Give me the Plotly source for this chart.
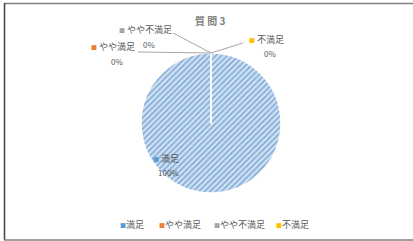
import plotly.graph_objects as go

categories = ["満足", "やや満足", "やや不満足", "不満足"]
values = [100, 0, 0, 0]
colors = ["#5B9BD5", "#ED7D31", "#A5A5A5", "#FFC000"]
title_text = "質 問 3"

W, H = 413, 241
FONT = "Noto Sans CJK JP"
TXT = "#595959"

total = sum(values)
pcts = [f"{round(v / total * 100)}%" for v in values]

fig = go.Figure()
fig.add_trace(go.Pie(
    labels=categories,
    values=values,
    sort=False,
    direction="clockwise",
    rotation=0,
    textinfo="none",
    hoverinfo="label+percent",
    showlegend=False,
    marker=dict(
        colors=colors,
        line=dict(color="white", width=1.5),
        pattern=dict(shape="/", fgcolor="#8AB0DA", bgcolor="#D6E6F5", size=4, solidity=0.5),
    ),
    domain=dict(x=[(211 - 70) / W, (211 + 70) / W], y=[1 - 193 / H, 1 - 53 / H]),
))

def px(x):
    return x / W

def py(y):
    return 1 - y / H

annotations = []
annotations.append(dict(x=px(210), y=py(20), text=f"<b>{title_text.replace(' ', '&nbsp;')}</b>", showarrow=False,
                         font=dict(family=FONT, size=10, color="#808080"), xanchor="center", yanchor="middle"))

label_pos = {
    "満足": ((166, 158), (168, 172)),
    "やや満足": ((113, 47), (117, 62)),
    "やや不満足": ((145, 29), (149, 44)),
    "不満足": ((266, 40), (270, 54)),
}
for cat, col, pct in zip(categories, colors, pcts):
    (nx, ny), (qx, qy) = label_pos[cat]
    annotations.append(dict(x=px(nx), y=py(ny),
                             text=f"<span style='color:{col};font-size:6px'>■</span>&nbsp;{cat}",
                             showarrow=False, font=dict(family=FONT, size=9, color=TXT),
                             xanchor="center", yanchor="middle"))
    annotations.append(dict(x=px(qx), y=py(qy), text=pct, showarrow=False,
                             font=dict(family=FONT, size=8, color=TXT),
                             xanchor="center", yanchor="middle"))

leg_x = [132, 180, 239, 292]
for cat, col, lx in zip(categories, colors, leg_x):
    annotations.append(dict(x=px(lx), y=py(224),
                             text=f"<span style='color:{col};font-size:6px'>■</span>{cat}",
                             showarrow=False, font=dict(family=FONT, size=9, color=TXT),
                             xanchor="center", yanchor="middle"))

shapes = [
    dict(type="line", xref="paper", yref="paper", x0=px(173), y0=py(33), x1=px(211), y1=py(53),
         line=dict(color="#A6A6A6", width=1)),
    dict(type="line", xref="paper", yref="paper", x0=px(138), y0=py(52), x1=px(211), y1=py(53),
         line=dict(color="#A6A6A6", width=1)),
    dict(type="line", xref="paper", yref="paper", x0=px(243), y0=py(43), x1=px(211), y1=py(53),
         line=dict(color="#A6A6A6", width=1)),
    dict(type="line", xref="paper", yref="paper", x0=px(4), y0=py(3.5), x1=px(413), y1=py(3.5),
         line=dict(color="#7F7F7F", width=1.5)),
    dict(type="line", xref="paper", yref="paper", x0=px(4.5), y0=py(3), x1=px(4.5), y1=py(240),
         line=dict(color="#3F3F3F", width=1.5)),
    dict(type="line", xref="paper", yref="paper", x0=px(4), y0=py(240), x1=px(413), y1=py(240),
         line=dict(color="#7F7F7F", width=1.5)),
]

fig.update_layout(
    width=W, height=H,
    margin=dict(l=0, r=0, t=0, b=0),
    paper_bgcolor="white",
    plot_bgcolor="white",
    annotations=annotations,
    shapes=shapes,
    font=dict(family=FONT, color=TXT),
)

fig.write_html("out.html", config={"displayModeBar": False},
               post_script="document.body.style.margin='0';document.body.style.overflow='hidden';")
